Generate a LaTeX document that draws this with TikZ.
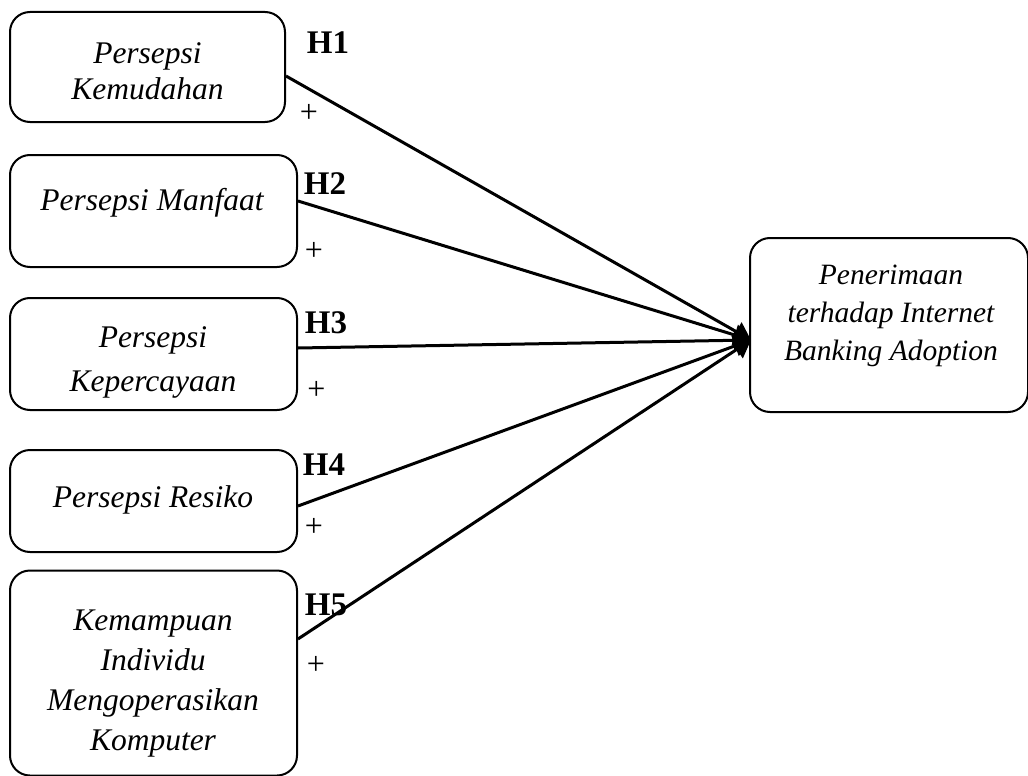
\documentclass[tikz,border=0pt]{standalone}
\usepackage{fontspec}
\setmainfont{Liberation Serif}
\usetikzlibrary{arrows.meta}
\begin{document}
\begin{tikzpicture}[x=1pt,y=-1pt,
  box/.style={draw,line width=2pt,rounded corners=20pt,inner sep=0pt},
  txt/.style={font=\fontsize{31.5}{38}\selectfont\itshape,align=center,inner sep=0pt},
  hyp/.style={font=\fontsize{33}{34}\selectfont\bfseries,inner sep=0pt},
  plus/.style={font=\fontsize{32}{32}\selectfont,inner sep=0pt},
  link/.style={line width=3pt,-{Triangle[length=17pt,width=21pt]}}]
\useasboundingbox (0,0) rectangle (1028,776);
% boxes
\node[box,minimum width=275pt,minimum height=110pt] (b1) at (147.5,67) {};
\node[box,minimum width=287pt,minimum height=112pt] (b2) at (153.5,211) {};
\node[box,minimum width=287pt,minimum height=112pt] (b3) at (153.5,354) {};
\node[box,minimum width=287pt,minimum height=102pt] (b4) at (153.5,501) {};
\node[box,minimum width=287pt,minimum height=205pt] (b5) at (153.5,673) {};
\node[box,minimum width=278pt,minimum height=174pt] (r) at (889,325) {};
% texts
\node[txt,font=\fontsize{31.5}{36}\selectfont\itshape] (t1) at (147.5,71) {Persepsi\\Kemudahan};
\node[txt] (t2) at (152,203) {Persepsi Manfaat};
\node[txt,font=\fontsize{31.5}{44}\selectfont\itshape] (t3) at (153,362) {Persepsi\\Kepercayaan};
\node[txt] (t4) at (153,500) {Persepsi Resiko};
\node[txt,font=\fontsize{31.5}{40}\selectfont\itshape] (t5) at (153,684) {Kemampuan\\Individu\\Mengoperasikan\\Komputer};
\node[txt,font=\fontsize{29.5}{38}\selectfont\itshape] (tr) at (891,316) {Penerimaan\\terhadap Internet\\Banking Adoption};
% hypothesis labels
\node[hyp] (h1) at (328,43) {H1};
\node[hyp] (h2) at (325,184) {H2};
\node[hyp] (h3) at (326,323) {H3};
\node[hyp] (h4) at (324,465) {H4};
\node[hyp] (h5) at (326,605) {H5};
\node[plus] (p1) at (309,113) {+};
\node[plus] (p2) at (314,251) {+};
\node[plus] (p3) at (316.5,390) {+};
\node[plus] (p4) at (314,527) {+};
\node[plus] (p5) at (316,665) {+};
% connectors
\coordinate (tip) at (751,340);
\draw[link] (b1.east |- 0,76) -- (tip);
\draw[link] (b2.east |- 0,201) -- (tip);
\draw[link] (b3.east |- 0,348) -- (tip);
\draw[link] (b4.east |- 0,506) -- (tip);
\draw[link] (b5.east |- 0,639) -- (tip);
\end{tikzpicture}
\end{document}
